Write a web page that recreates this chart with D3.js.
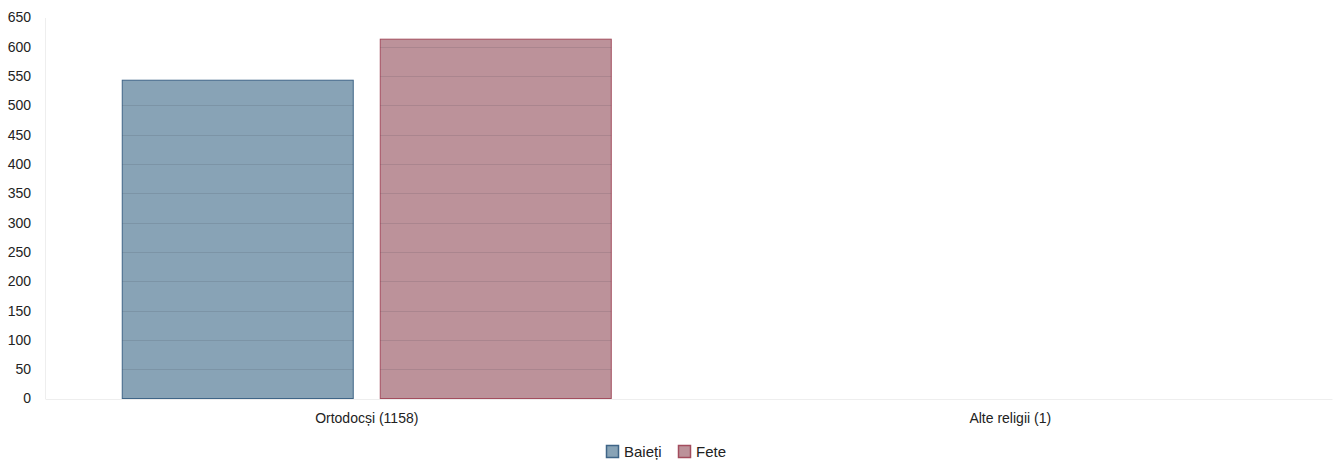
<!DOCTYPE html>
<html>
<head>
<meta charset="utf-8">
<script src="https://cdn.jsdelivr.net/npm/d3@7"></script>
<style>
  body { margin: 0; background: #fff; }
  text { font-family: "Liberation Sans", Arial, sans-serif; }
</style>
</head>
<body>
<div class="chart"></div>
<script>
var categories = ["Ortodocși (1158)", "Alte religii (1)"];
var seriesNames = ["Baieți", "Fete"];
var baieti = [543, 0];
var fete = [613, 1];
var yTicks = [0, 50, 100, 150, 200, 250, 300, 350, 400, 450, 500, 550, 600, 650];

var svgWidth = 1336;
var svgHeight = 463;

var colors = {
  "Baieți": { fill: "#88a3b6", stroke: "#3f6587" },
  "Fete": { fill: "#bc929a", stroke: "#a34d5e" }
};

var data = categories.map((c, i) => ({ cat: c, values: [
  { key: "Baieți", value: baieti[i] },
  { key: "Fete", value: fete[i] }
]}));

var svg = d3.select(".chart")
  .append("svg")
  .attr("width", svgWidth)
  .attr("height", svgHeight);

var x0 = d3.scaleBand().domain(categories).range([45, 1332]).padding(0);
var x1 = d3.scaleBand().domain(seriesNames).range([0, x0.bandwidth()])
  .paddingInner(0.1047).paddingOuter(0.2994);
var y = d3.scaleLinear().domain([0, 650]).range([398.5, 17.5]);

// bars (tiny bars are not visible in the original, so no outline there)
var groups = svg.append("g").selectAll("g")
  .data(data)
  .enter()
  .append("g")
  .attr("transform", d => `translate(${x0(d.cat)},0)`);

groups.selectAll("rect")
  .data(d => d.values)
  .enter()
  .append("rect")
  .attr("x", d => x1(d.key))
  .attr("y", d => y(d.value))
  .attr("width", x1.bandwidth())
  .attr("height", d => y(0) - y(d.value))
  .attr("fill", d => colors[d.key].fill)
  .attr("fill-opacity", d => (y(0) - y(d.value)) < 2 ? 0 : 1)
  .attr("stroke", d => (y(0) - y(d.value)) < 2 ? "none" : colors[d.key].stroke)
  .attr("stroke-width", 1);

// gridlines showing through the bars
var clip = svg.append("clipPath").attr("id", "barclip");
data.forEach(d => {
  d.values.forEach(v => {
    clip.append("rect")
      .attr("x", x0(d.cat) + x1(v.key))
      .attr("y", y(v.value))
      .attr("width", x1.bandwidth())
      .attr("height", y(0) - y(v.value));
  });
});
svg.append("g")
  .attr("clip-path", "url(#barclip)")
  .selectAll("line")
  .data(yTicks.slice(1))
  .enter()
  .append("line")
  .attr("x1", 45).attr("x2", 1332)
  .attr("y1", d => Math.round(y(d)) + 0.5)
  .attr("y2", d => Math.round(y(d)) + 0.5)
  .attr("stroke", "rgba(40,40,60,0.12)");

// axes
var leftAxis = d3.axisLeft(y).tickValues(yTicks).tickSize(0).tickPadding(14);
var gy = svg.append("g").attr("transform", "translate(45,0)").call(leftAxis);
gy.select(".domain").attr("stroke", "#eeeeee");
gy.selectAll("text").attr("font-size", 14).attr("fill", "#222");

var bottomAxis = d3.axisBottom(x0).tickSize(0).tickPadding(14);
var gx = svg.append("g").attr("transform", "translate(0,399)").call(bottomAxis);
gx.select(".domain").attr("stroke", "#eeeeee");
gx.selectAll("text").attr("font-size", 14).attr("fill", "#222");

// legend
var legendItems = [
  { key: "Baieți", x: 606, tx: 624 },
  { key: "Fete", x: 678, tx: 696 }
];
var legend = svg.append("g");
legend.selectAll("rect")
  .data(legendItems)
  .enter()
  .append("rect")
  .attr("x", d => d.x + 0.5)
  .attr("y", 445.5)
  .attr("width", 12)
  .attr("height", 12)
  .attr("fill", d => colors[d.key].fill)
  .attr("stroke", d => colors[d.key].stroke)
  .attr("stroke-width", 1.5);
legend.selectAll("text")
  .data(legendItems)
  .enter()
  .append("text")
  .attr("x", d => d.tx)
  .attr("y", 457)
  .attr("font-size", 15)
  .attr("fill", "#222")
  .text(d => d.key);
</script>
</body>
</html>
